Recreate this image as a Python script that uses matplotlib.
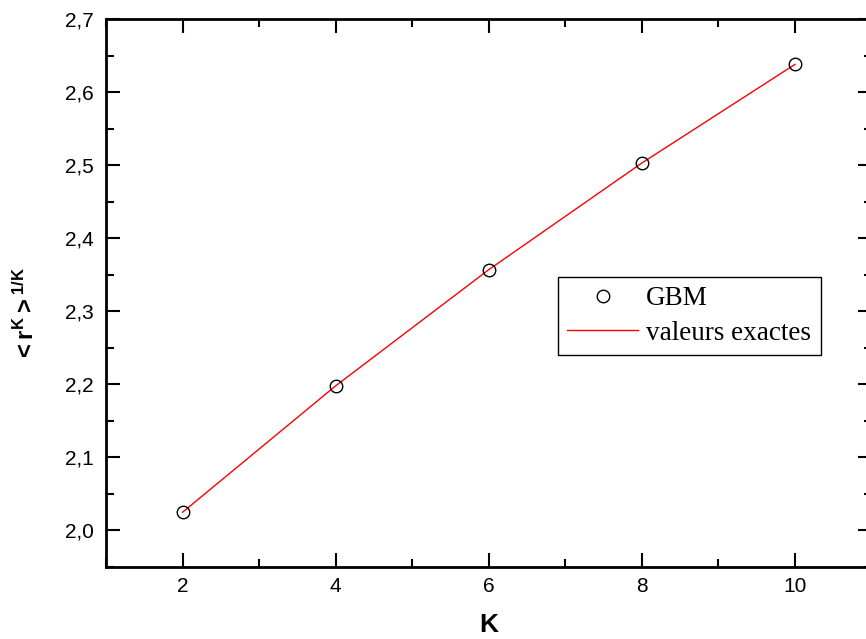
import matplotlib.pyplot as plt
from matplotlib.ticker import MultipleLocator, FuncFormatter

K = [2, 4, 6, 8, 10]
gbm = [2.025, 2.198, 2.357, 2.503, 2.638]
exact = [2.025, 2.198, 2.357, 2.503, 2.638]

plt.rcParams['font.family'] = 'Liberation Sans'
plt.rcParams['mathtext.fontset'] = 'custom'
plt.rcParams['mathtext.rm'] = 'Liberation Sans:bold'
plt.rcParams['mathtext.it'] = 'Liberation Sans:bold'
plt.rcParams['mathtext.bf'] = 'Liberation Sans:bold'

fig = plt.figure(figsize=(8.66, 6.39), dpi=100)
ax = fig.add_axes([106 / 866, 72 / 639, (871.6 - 106) / 866, (567 - 19) / 639])

ax.plot(K, exact, color='red', lw=1, label='valeurs exactes', zorder=2)
ax.plot(K, gbm, 'o', ms=9, mfc='none', mec='black', mew=1, label='GBM', zorder=3)

ax.set_xlim(1, 11)
ax.set_ylim(1.95, 2.7)
ax.xaxis.set_major_locator(MultipleLocator(2))
ax.xaxis.set_minor_locator(MultipleLocator(1))
ax.yaxis.set_major_locator(MultipleLocator(0.1))
ax.yaxis.set_minor_locator(MultipleLocator(0.05))
ax.yaxis.set_major_formatter(FuncFormatter(lambda v, p: f'{v:.1f}'.replace('.', ',')))

ax.tick_params(which='both', direction='in', top=True, right=True, width=1.5, labelsize=15)
ax.tick_params(which='major', length=10)
ax.tick_params(axis='x', which='major', pad=7)
ax.tick_params(axis='y', which='major', pad=9)
ax.tick_params(which='minor', length=6)
for s in ax.spines.values():
    s.set_linewidth(2)

ax.set_xlabel('K', fontsize=19, fontweight='bold')
ax.xaxis.set_label_coords(0.5, -0.084)
ax.set_ylabel(r'${<}r^{K}{>}^{1/K}$', fontsize=17)
ax.yaxis.set_label_coords(-0.087, 0.46)

handles, labels = ax.get_legend_handles_labels()
leg = ax.legend(handles[::-1], labels[::-1], loc='upper left',
                bbox_to_anchor=(558 / 866, 1 - 277 / 639), bbox_transform=fig.transFigure,
                prop={'family': 'Liberation Serif', 'size': 19.5}, fancybox=False,
                edgecolor='black', framealpha=1, handlelength=2.6, borderpad=0.35,
                labelspacing=0.35, handletextpad=0.3, borderaxespad=0)
leg.get_frame().set_linewidth(1)

fig.savefig('out.png', dpi=100)
